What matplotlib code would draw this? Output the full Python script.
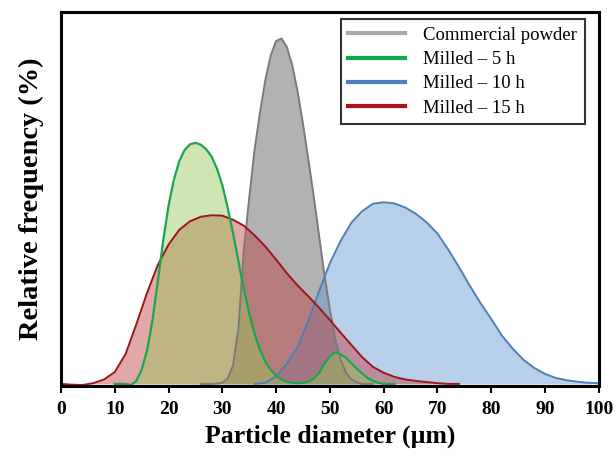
import matplotlib
matplotlib.use("Agg")
import matplotlib.pyplot as plt

# particle size distributions (relative frequency, %)
x_comm = [26, 28, 29, 30, 31, 32, 33, 34, 35, 36, 37, 38, 39, 40, 41, 42, 43, 44,
          45, 46, 47, 48, 49, 50, 51, 52, 53, 54, 55, 56, 58]
y_comm = [0.0, 0.0, 0.01, 0.03, 0.15, 0.5, 1.5, 3.6, 5.0, 6.3, 7.3, 8.18, 8.84, 9.23,
          9.3, 9.07, 8.58, 7.87, 7.0, 6.04, 5.05, 3.98, 2.92, 2.0, 1.21, 0.65, 0.3,
          0.12, 0.04, 0.0, 0.0]

x_5h = [10, 11, 12, 13, 14, 15, 16, 17, 18, 19, 20, 21, 22, 23, 24, 25, 26, 27, 28,
        29, 30, 31, 32, 33, 34, 35, 36, 37, 38, 39, 40, 41, 42, 43, 44, 45, 46, 47,
        48, 49, 50, 51, 52, 53, 54, 55, 56, 57, 58, 59, 60, 62]
y_5h = [0.0, 0.0, 0.0, -0.03, 0.08, 0.38, 0.9, 1.7, 2.75, 3.85, 4.8, 5.5, 6.0, 6.3,
        6.45, 6.49, 6.44, 6.32, 6.12, 5.8, 5.35, 4.75, 4.05, 3.3, 2.55, 1.9, 1.35,
        0.92, 0.6, 0.38, 0.22, 0.12, 0.06, 0.03, 0.02, 0.03, 0.06, 0.14, 0.3, 0.55,
        0.75, 0.85, 0.8, 0.7, 0.56, 0.41, 0.28, 0.16, 0.08, 0.03, 0.0, 0.0]

x_10h = [36, 38, 40, 42, 44, 46, 48, 50, 52, 54, 56, 58, 60, 62, 64, 66, 68, 70, 72,
         74, 76, 78, 80, 82, 84, 86, 88, 90, 92, 94, 96, 98, 100]
y_10h = [0.0, 0.03, 0.2, 0.55, 1.0, 1.7, 2.5, 3.25, 3.85, 4.34, 4.65, 4.85, 4.89,
         4.86, 4.75, 4.58, 4.35, 4.05, 3.62, 3.15, 2.65, 2.18, 1.75, 1.3, 0.95, 0.65,
         0.43, 0.27, 0.16, 0.1, 0.06, 0.03, 0.02]

x_15h = [0, 2, 4, 6, 8, 10, 12, 14, 16, 18, 20, 22, 24, 26, 28, 30, 32, 34, 36, 38,
         40, 42, 44, 46, 48, 50, 52, 54, 56, 58, 60, 62, 64, 66, 68, 70, 72, 74]
y_15h = [0.0, -0.02, -0.03, 0.02, 0.12, 0.32, 0.8, 1.6, 2.45, 3.2, 3.75, 4.15, 4.38,
         4.5, 4.54, 4.53, 4.42, 4.26, 4.0, 3.7, 3.35, 2.98, 2.65, 2.36, 2.05, 1.72,
         1.38, 1.05, 0.72, 0.46, 0.3, 0.19, 0.12, 0.08, 0.05, 0.02, 0.0, 0.0]

labels = ["Commercial powder", "Milled \u2013 5 h", "Milled \u2013 10 h", "Milled \u2013 15 h"]
ticks = [0, 10, 20, 30, 40, 50, 60, 70, 80, 90, 100]

plt.rcParams['font.family'] = ['Liberation Serif', 'DejaVu Serif']

fig = plt.figure(figsize=(6.16, 4.62), dpi=100)
ax = fig.add_axes([0.099, 0.165, 0.873, 0.808])

# fills first, outlines on top
ax.fill_between(x_comm, y_comm, color=(0.45, 0.45, 0.45), alpha=0.55, lw=0)
ax.fill_between(x_10h, y_10h, color=(0.39, 0.59, 0.82), alpha=0.45, lw=0)
ax.fill_between(x_15h, y_15h, color=(0.75, 0.24, 0.24), alpha=0.45, lw=0)
ax.fill_between(x_5h, y_5h, color=(0.59, 0.78, 0.35), alpha=0.45, lw=0)

ax.plot(x_comm, y_comm, color='#7a7a7a', lw=1.4)
ax.plot(x_10h, y_10h, color='#4f7fb8', lw=1.4)
ax.plot(x_15h, y_15h, color='#a0141c', lw=1.4)
ax.plot(x_5h, y_5h, color='#1aa550', lw=1.6)

# legend proxies
h1, = ax.plot([], [], color='#a8a8a8', lw=3)
h2, = ax.plot([], [], color='#12a84e', lw=3)
h3, = ax.plot([], [], color='#4f80bd', lw=3)
h4, = ax.plot([], [], color='#b0101a', lw=3)
leg = ax.legend([h1, h2, h3, h4], labels, loc='upper right', fontsize=13.5,
                frameon=True, fancybox=False, handlelength=3.0,
                labelspacing=0.38, borderpad=0.4, handletextpad=1.0,
                borderaxespad=0, bbox_to_anchor=(0.974, 0.982))
leg.get_frame().set_edgecolor('black')
leg.get_frame().set_linewidth(1.5)

ax.set_xlim(0, 100)
ax.set_ylim(-0.05, 10)
ax.set_xticks(ticks)
ax.set_xticklabels([str(t) for t in ticks], fontsize=14, fontweight='bold')
ax.set_yticks([])
ax.tick_params(axis='x', direction='out', length=5, width=1.5, pad=6)
for s in ax.spines.values():
    s.set_linewidth(2.2)
    s.set_color('black')

ax.set_xlabel("Particle diameter (\u00b5m)", fontsize=18.5, fontweight='bold', labelpad=5)
ax.set_ylabel("Relative frequency (%)", fontsize=20.5, fontweight='bold', labelpad=12)

fig.savefig("out.png", dpi=100)
